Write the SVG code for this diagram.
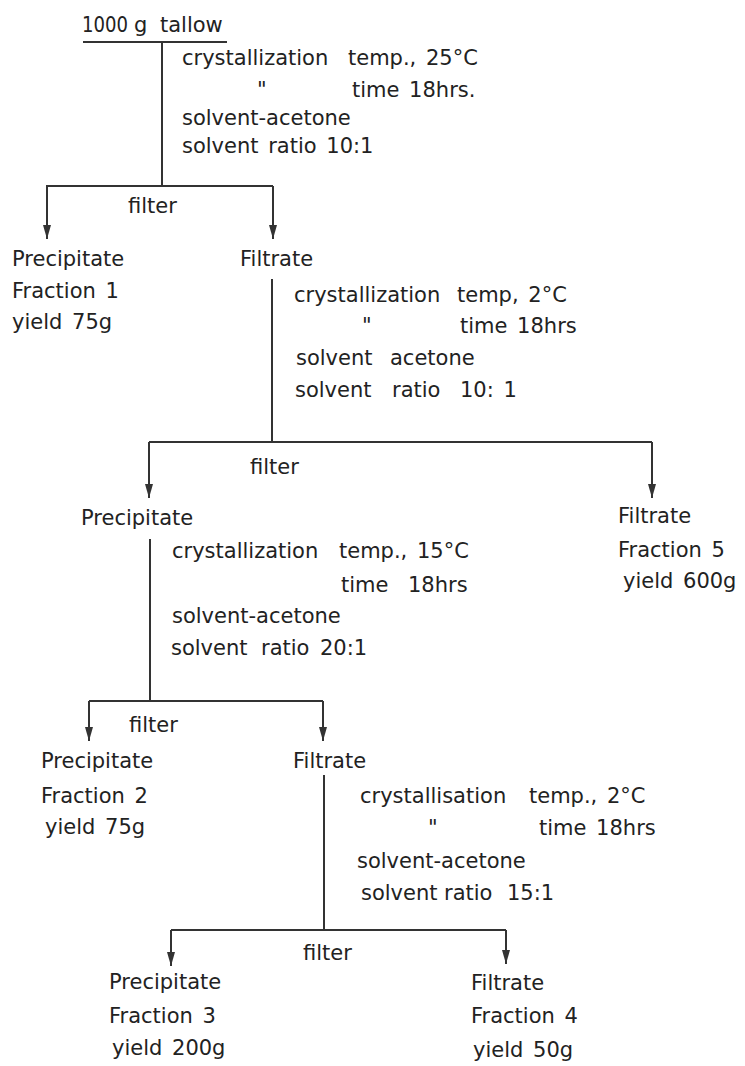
<svg xmlns="http://www.w3.org/2000/svg" width="745" height="1066" viewBox="0 0 745 1066">
<style>
text{font-family:"DejaVu Sans","Liberation Sans",sans-serif;font-size:21px;fill:#222;word-spacing:3px}
.ln{stroke:#333;stroke-width:2;fill:none}
.ar{stroke:#333;stroke-width:2;fill:none;marker-end:url(#ah)}
</style>
<defs>
<marker id="ah" viewBox="0 0 14 8" refX="14" refY="4" markerWidth="14" markerHeight="8" markerUnits="userSpaceOnUse" orient="auto">
<path d="M0,0 L14,4 L0,8 z" fill="#333"/>
</marker>
</defs>
<rect width="745" height="1066" fill="#fff"/>
<g id="connectors">
<line class="ln" x1="83" y1="42" x2="227" y2="42"/>
<line class="ln" x1="162" y1="42" x2="162" y2="186"/>
<line class="ln" x1="46" y1="186" x2="273" y2="186"/>
<line class="ar" x1="47" y1="186" x2="47" y2="239"/>
<line class="ar" x1="273" y1="186" x2="273" y2="239"/>
<line class="ln" x1="272" y1="279" x2="272" y2="442"/>
<line class="ln" x1="149" y1="442" x2="652" y2="442"/>
<line class="ar" x1="149" y1="442" x2="149" y2="498"/>
<line class="ar" x1="652" y1="442" x2="652" y2="498"/>
<line class="ln" x1="150" y1="539" x2="150" y2="701"/>
<line class="ln" x1="89" y1="701" x2="323" y2="701"/>
<line class="ar" x1="89" y1="701" x2="89" y2="741"/>
<line class="ar" x1="323" y1="701" x2="323" y2="741"/>
<line class="ln" x1="324" y1="775" x2="324" y2="930"/>
<line class="ln" x1="171" y1="930" x2="506" y2="930"/>
<line class="ar" x1="171" y1="930" x2="171" y2="966"/>
<line class="ar" x1="506" y1="930" x2="506" y2="964"/>
</g>
<g id="tallow">
<text x="82" y="32"><tspan textLength="46" lengthAdjust="spacingAndGlyphs">1000</tspan><tspan x="134">g</tspan><tspan x="160">tallow</tspan></text>
</g>
<g id="cond1">
<text x="182" y="65">crystallization<tspan x="348">temp., 25°C</tspan></text>
<text x="257" y="97">"<tspan x="352">time 18hrs.</tspan></text>
<text x="182" y="125">solvent-acetone</text>
<text x="182" y="153">solvent ratio 10:1</text>
</g>
<g id="filter1"><text x="128" y="213">filter</text></g>
<g id="fraction1">
<text x="12" y="266">Precipitate</text>
<text x="12" y="298">Fraction 1</text>
<text x="12" y="329">yield 75g</text>
</g>
<g id="filtrate1"><text x="240" y="266">Filtrate</text></g>
<g id="cond2">
<text x="294" y="302">crystallization<tspan x="457">temp, 2°C</tspan></text>
<text x="362" y="333">"<tspan x="460">time 18hrs</tspan></text>
<text x="296" y="365">solvent<tspan x="390">acetone</tspan></text>
<text x="295" y="397">solvent<tspan x="392">ratio</tspan><tspan x="460">10: 1</tspan></text>
</g>
<g id="filter2"><text x="250" y="474">filter</text></g>
<g id="precipitate2"><text x="81" y="525">Precipitate</text></g>
<g id="fraction5">
<text x="618" y="523">Filtrate</text>
<text x="618" y="557">Fraction 5</text>
<text x="623" y="588">yield 600g</text>
</g>
<g id="cond3">
<text x="172" y="558">crystallization<tspan x="339">temp., 15°C</tspan></text>
<text x="341" y="592">time<tspan x="408">18hrs</tspan></text>
<text x="172" y="623">solvent-acetone</text>
<text x="171" y="655">solvent<tspan x="261">ratio</tspan><tspan x="320">20:1</tspan></text>
</g>
<g id="filter3"><text x="129" y="732">filter</text></g>
<g id="fraction2">
<text x="41" y="768">Precipitate</text>
<text x="41" y="803">Fraction 2</text>
<text x="45" y="834">yield 75g</text>
</g>
<g id="filtrate3"><text x="293" y="768">Filtrate</text></g>
<g id="cond4">
<text x="360" y="803">crystallisation<tspan x="529">temp., 2°C</tspan></text>
<text x="428" y="835">"<tspan x="539">time 18hrs</tspan></text>
<text x="357" y="868">solvent-acetone</text>
<text x="361" y="900">solvent<tspan x="444">ratio</tspan><tspan x="507">15:1</tspan></text>
</g>
<g id="filter4"><text x="303" y="960">filter</text></g>
<g id="fraction3">
<text x="109" y="989">Precipitate</text>
<text x="109" y="1023">Fraction 3</text>
<text x="112" y="1055">yield 200g</text>
</g>
<g id="fraction4">
<text x="471" y="990">Filtrate</text>
<text x="471" y="1023">Fraction 4</text>
<text x="473" y="1057">yield 50g</text>
</g>
</svg>
